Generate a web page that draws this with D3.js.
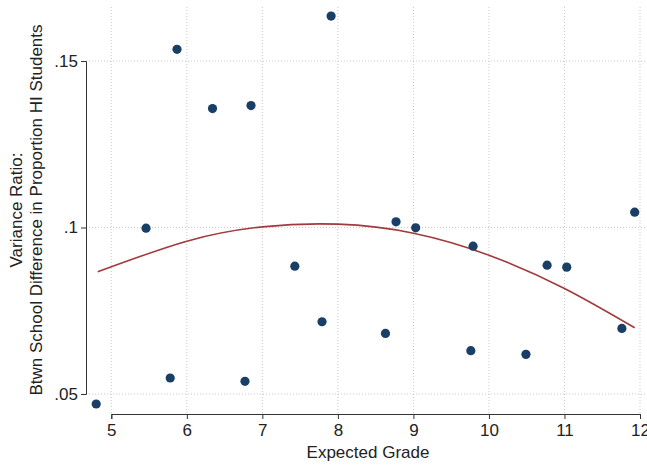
<!DOCTYPE html>
<html><head><meta charset="utf-8">
<script src="https://cdn.jsdelivr.net/npm/d3@7"></script>
<style>body{margin:0;background:#fff}svg{display:block}text{font-family:"Liberation Sans",Arial,sans-serif;fill:#222}</style>
</head><body>
<script>
const grade = [4.80,5.46,5.87,5.78,6.34,6.85,6.77,7.43,7.91,7.79,8.77,9.03,8.63,9.79,9.76,10.49,10.77,11.03,11.76,11.93];
const ratio = [0.0470,0.0998,0.1535,0.0548,0.1357,0.1366,0.0538,0.0884,0.1635,0.0717,0.1017,0.0999,0.0682,0.0944,0.0630,0.0619,0.0887,0.0881,0.0697,0.1046];
// quadratic fit line
const fitGrade = [4.82,6,7,8,9,10,11,11.93];
const fitRatio = [0.0867,0.0959,0.1002,0.1010,0.0983,0.0917,0.0817,0.0699];
const xTicks = [5,6,7,8,9,10,11,12];
const yTicks = [0.05,0.10,0.15];
const yTickLabels = [".05",".1",".15"];

(function(){
const W=647,H=466;
const svg=d3.select("body").append("svg").attr("width",W).attr("height",H);
const x=d3.scaleLinear().domain([5,12]).range([111.3,640]);
const y=d3.scaleLinear().domain([0.05,0.15]).range([394,61]);
const gTop=7, axY=414, axX=86, fs=17;

// grid
const g=svg.append("g");
g.selectAll("line.vg").data(xTicks).join("line").attr("class","vg").attr("x1",d=>x(d)).attr("x2",d=>x(d)).attr("y1",gTop).attr("y2",axY)
 .attr("stroke","#c8c8c8").attr("stroke-width",1).attr("stroke-dasharray","1,2");
g.selectAll("line.hg").data(yTicks).join("line").attr("class","hg").attr("x1",axX).attr("x2",W).attr("y1",d=>y(d)).attr("y2",d=>y(d))
 .attr("stroke","#c8c8c8").attr("stroke-width",1).attr("stroke-dasharray","1,2");

// axes
const xa=svg.append("g").attr("transform",`translate(0,${axY})`)
 .call(d3.axisBottom(x).tickValues(xTicks).tickFormat(d3.format("d")).tickSize(5).tickPadding(5));
const ya=svg.append("g").attr("transform",`translate(${axX},0)`)
 .call(d3.axisLeft(y).tickValues(yTicks).tickFormat((d,i)=>yTickLabels[i]).tickSize(5).tickPadding(3));
[xa,ya].forEach(a=>{a.select(".domain").attr("stroke","#333");a.selectAll(".tick line").attr("stroke","#333");
 a.selectAll("text").attr("font-size",fs).attr("fill","#222").style("font-family","Liberation Sans, Arial, sans-serif");});

// fit line
const fit=fitGrade.map((d,i)=>[d,fitRatio[i]]);
svg.append("path").datum(fit).attr("d",d3.line().curve(d3.curveNatural).x(d=>x(d[0])).y(d=>y(d[1])))
 .attr("fill","none").attr("stroke","#a03a3d").attr("stroke-width",1.6);

// points
svg.selectAll("circle").data(grade).join("circle").attr("cx",d=>x(d)).attr("cy",(d,i)=>y(ratio[i]))
 .attr("r",4.6).attr("fill","#1a3f66");

// titles
svg.append("text").attr("x",368).attr("y",458).attr("text-anchor","middle").attr("font-size",fs).text("Expected Grade");
const yt=svg.append("text").attr("transform","translate(0,210) rotate(-90)").attr("text-anchor","middle").attr("font-size",fs);
yt.append("tspan").attr("x",0).attr("y",21.5).text("Variance Ratio:");
yt.append("tspan").attr("x",0).attr("y",41.5).text("Btwn School Difference in Proportion HI Students");
})();
</script>
</body></html>
